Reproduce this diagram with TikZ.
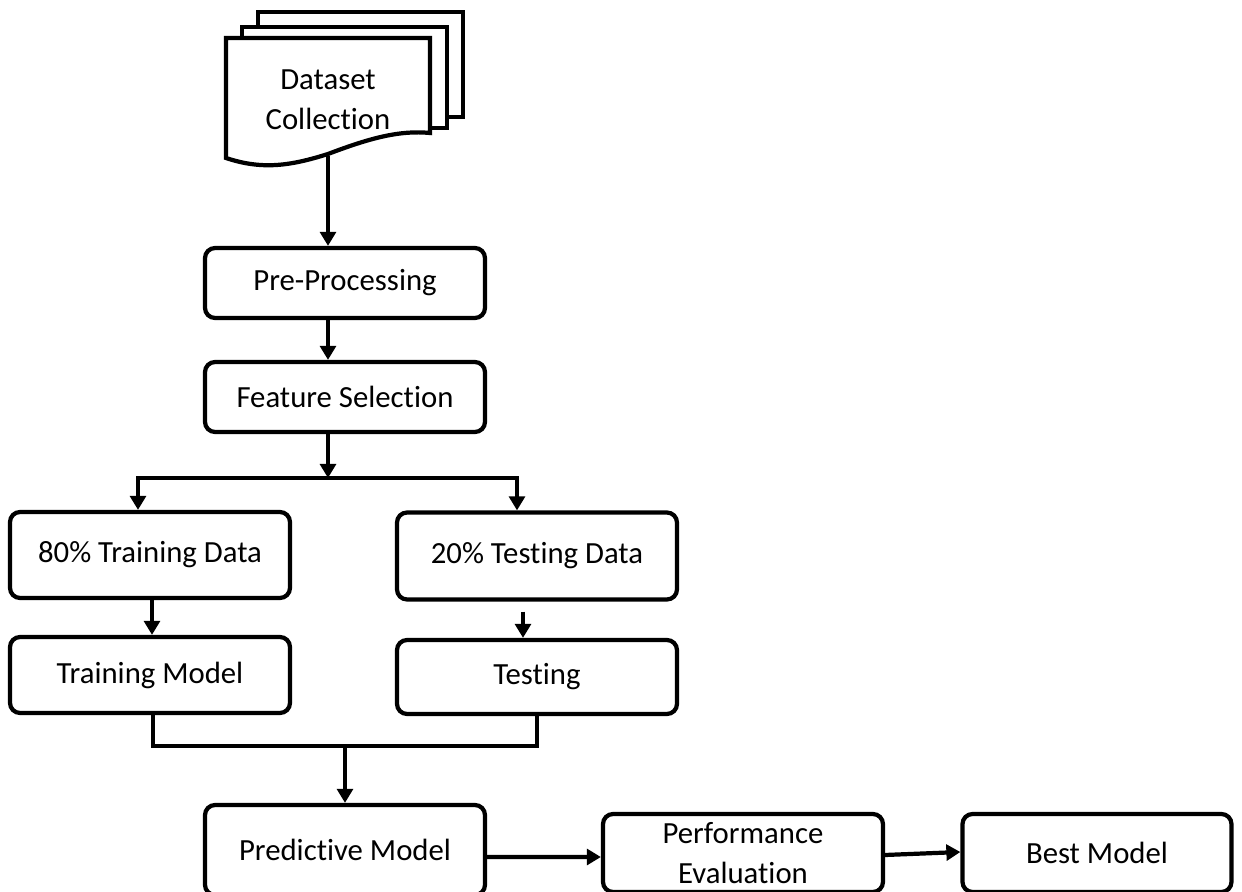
\documentclass[tikz,border=0pt]{standalone}
\usepackage{fontspec}
\setmainfont{Carlito}[Ligatures=NoCommon]
\usetikzlibrary{arrows.meta}

\begin{document}
\begin{tikzpicture}[x=0.02cm,y=-0.02cm,
    font=\fontsize{17.5}{23}\selectfont,
    box/.style={draw,line width=2.4pt,rounded corners=0.2cm,minimum width=5.6cm,align=center,inner sep=0pt,fill=white},
    page/.style={draw,line width=2.4pt,fill=white},
    arr/.style={line width=2.4pt,-{Triangle[width=9pt,length=8pt]}},
    conn/.style={line width=2.4pt}]
    \useasboundingbox (0,0) rectangle (1242,892);
    % stacked document
    \draw[page] (258,12) rectangle (463,117);
    \draw[page] (242,27) rectangle (447,128);
    \draw[page] (226,38) -- (430,38) -- (430,133)
        .. controls (400,130) and (370,138) .. (328,154)
        .. controls (290,166) and (262,170) .. (226,158) -- cycle;
    \node (data) at (328,100) [align=center] {Dataset\\Collection};
    \coordinate (docbot) at (328,156);
    % steps
    \node[box,minimum height=1.4cm] (pre) at (345,283) {Pre-Processing};
    \node[box,minimum height=1.4cm] (feat) at (345,397) {Feature Selection};
    \node[box,minimum height=1.72cm] (train) at (150,555) {80\% Training Data};
    \node[box,minimum height=1.74cm] (test) at (537,556) {20\% Testing Data};
    \node[box,minimum height=1.52cm] (trmod) at (150,675) {Training Model};
    \node[box,minimum height=1.48cm] (tst) at (537,677) {Testing};
    \node[box,minimum height=1.8cm] (pred) at (345,850) {Predictive Model};
    \node[box,minimum height=1.56cm] (perf) at (743,853) {Performance\\Evaluation};
    \node[box,minimum width=5.38cm,minimum height=1.56cm] (best) at (1097,853) {Best Model};
    \coordinate (split) at (328,478);
    \coordinate (merge) at (345,746);
    % arrows
    \draw[arr] (docbot) -- (docbot |- pre.north);
    \draw[arr] (docbot |- pre.south) -- (docbot |- feat.north);
    \draw[arr] (docbot |- feat.south) -- (split);
    \draw[arr] (split) -| ([xshift=-0.24cm]train.north);
    \draw[arr] (split) -| ([xshift=-0.4cm]test.north);
    \draw[arr] ([xshift=0.04cm]train.south) -- ([xshift=0.04cm]trmod.north);
    \draw[arr] ([xshift=-0.28cm,yshift=-0.2cm]test.south) -- ([xshift=-0.28cm]tst.north);
    \draw[conn] ([xshift=0.06cm]trmod.south) |- (merge) -| (tst.south);
    \draw[arr] (merge) -- (pred);
    \draw[arr] ([yshift=-0.14cm]pred.east) -- ([yshift=-0.08cm]perf.west);
    \draw[arr] ([yshift=-0.04cm]perf.east) -- ([yshift=0.02cm]best.west);
\end{tikzpicture}
\end{document}
